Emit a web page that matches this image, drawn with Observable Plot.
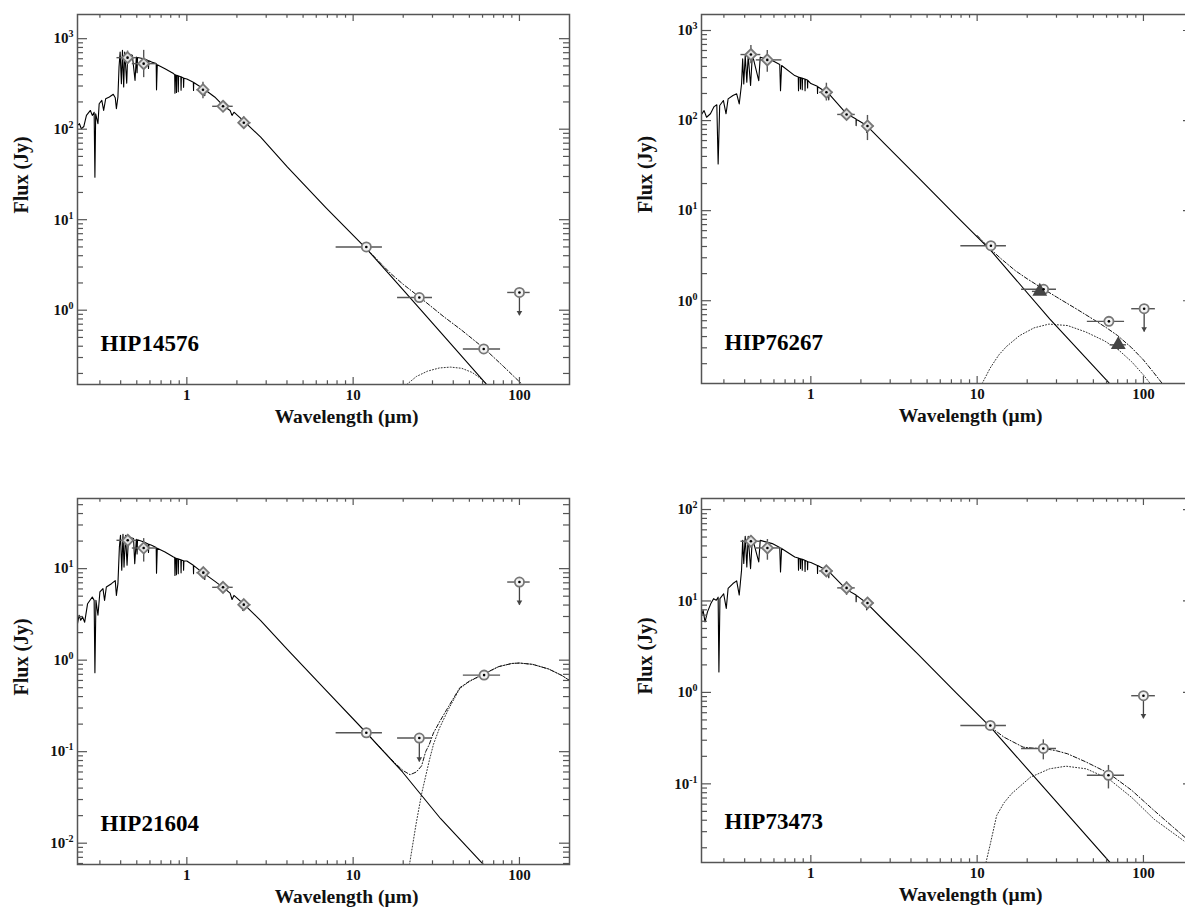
<!DOCTYPE html>
<html>
<head>
<meta charset="utf-8">
<script src="https://cdn.jsdelivr.net/npm/d3@7"></script>
<script src="https://cdn.jsdelivr.net/npm/@observablehq/plot@0.6"></script>
<style>
html, body { margin: 0; padding: 0; background: #fff; overflow: hidden; width: 1185px; height: 915px; }
#wrap { position: relative; width: 1185px; height: 915px; overflow: hidden; background: #fff; }
.panel { position: absolute; }
</style>
</head>
<body>
<div id="wrap"></div>
<script>
// ---------------- shared axis values ----------------
const xDomain = [0.22, 200];
const xMajor = [1, 10, 100];
const xMinor = [0.3, 0.4, 0.5, 0.6, 0.7, 0.8, 0.9, 2, 3, 4, 5, 6, 7, 8, 9, 20, 30, 40, 50, 60, 70, 80, 90];
const xTickLabels = ["1", "10", "100"];

// ---------------- HIP14576 ----------------
const p1Name = "HIP14576";
const p1YDomain = [0.151, 1850];
const p1YMajor = [1, 10, 100, 1000];
const p1YExp = ["0", "1", "2", "3"];
const p1SpecW = [0.22,0.226,0.232,0.24,0.249,0.263,0.27,0.277,0.28,0.283,0.292,0.297,0.308,0.316,0.325,0.342,0.361,0.371,0.377,0.385,0.391,0.397,0.404,0.41,0.417,0.423,0.435,0.441,0.47,0.488,0.497,0.502,0.505,0.552,0.585,0.588,0.591,0.614,0.654,0.657,0.664,0.739,0.831,0.845,0.848,0.851,0.862,0.866,0.87,0.885,0.888,0.892,0.92,0.923,0.927,0.953,0.956,0.96,1.0,1.094,1.097,1.1,1.25,1.28,1.282,1.285,1.47,1.65,1.82,1.87,1.92,2.166,2.168,2.17,2.2,2.78,4.03,6.85,12,19.8,33.6,63.7,200];
const p1SpecF = [110,115,101,107,142,161,142,154,29.5,148,115,191,208,161,217,227,243,223,168,227,486,712,318,743,292,712,323,683,655,346,627,420,620,600,575,470,570,552,530,272,516,466,412,400,250,400,395,255,393,390,260,388,380,270,378,368,290,366,358,330,268,328,282,275,235,273,227,183,161,142,154,126,105,125,123,81.6,38,13.6,4.8,1.71,0.57,0.15,0.0155];
const p1DustW = [21, 24, 28, 33, 38.5, 45, 52, 58, 64, 72];
const p1DustF = [0.151, 0.185, 0.212, 0.23, 0.235, 0.228, 0.205, 0.178, 0.151, 0.12];
const p1TotW = [12, 15, 17, 20, 25.4, 35, 45, 61.7, 80, 104, 120];
const p1TotF = [4.8, 3.15, 2.5, 1.93, 1.37, 0.85, 0.6, 0.375, 0.24, 0.151, 0.115];
const p1PhotW   = [0.44, 0.55, 1.25, 1.65, 2.2, 12, 25, 61, 100];
const p1PhotF   = [617, 530, 273, 179, 118, 5.0, 1.38, 0.373, 1.57];
const p1PhotWLo = [0.38, 0.47, 1.15, 1.43, 2.06, 7.9, 18.5, 46, 85];
const p1PhotWHi = [0.50, 0.66, 1.36, 1.90, 2.43, 15, 30, 77, 116];
const p1PhotFLo = [520, 371, 217, 160, 101, 4.7, 1.3, 0.35, null];
const p1PhotFHi = [730, 743, 331, 200, 136, 5.3, 1.46, 0.40, null];
const p1PhotKind = ["d", "d", "d", "d", "d", "c", "c", "c", "u"];
const p1PhotArrow = [null, null, null, null, null, null, null, null, 0.87];

// ---------------- HIP76267 ----------------
const p2Name = "HIP76267";
const p2YDomain = [0.1205, 1506];
const p2YMajor = [1, 10, 100, 1000];
const p2YExp = ["0", "1", "2", "3"];
const p2SpecW = [0.218,0.228,0.236,0.249,0.262,0.272,0.277,0.283,0.298,0.309,0.318,0.34,0.358,0.371,0.383,0.389,0.395,0.403,0.412,0.42,0.434,0.445,0.486,0.496,0.586,0.65,0.657,0.667,0.8,0.84,0.843,0.846,0.863,0.866,0.869,0.885,0.888,0.891,0.92,0.923,0.926,0.953,0.956,0.959,1.0,1.094,1.097,1.1,1.24,1.28,1.282,1.285,1.64,1.87,1.872,1.875,1.93,2.166,2.168,2.17,2.19,2.78,4.43,7.45,12.1,27.3,62.7,200];
const p2SpecF = [114,129,109,119,143,150,33,147,167,119,174,190,198,153,255,484,255,527,267,527,245,541,278,506,464,419,215,409,316,305,215,303,300,225,298,296,220,294,290,215,288,282,230,280,258,240,200,238,206,200,170,198,119,104,88,103,100,88,74,87,86,55.2,23.2,8.8,3.6,0.63,0.12,0.0114];
const p2DustW = [10.7, 12, 13.5, 15, 18, 22, 27, 35, 45, 58, 70, 85, 100, 110, 125];
const p2DustF = [0.12, 0.18, 0.25, 0.31, 0.41, 0.5, 0.55, 0.53, 0.45, 0.36, 0.29, 0.21, 0.15, 0.12, 0.09];
const p2TotW = [10, 12, 14, 17, 20, 25, 30, 40, 50, 60, 70, 85, 100, 115, 130, 160];
const p2TotF = [5.3, 3.75, 2.9, 2.15, 1.75, 1.35, 1.1, 0.8, 0.62, 0.5, 0.41, 0.3, 0.22, 0.16, 0.12, 0.075];
const p2PhotW   = [0.436, 0.547, 1.24, 1.64, 2.19, 12.1, 25.1, 23.8, 62, 70.6, 101];
const p2PhotF   = [541, 472, 206, 117, 87, 4.08, 1.34, 1.27, 0.59, 0.324, 0.815];
const p2PhotWLo = [0.38, 0.47, 1.13, 1.45, 2.05, 7.98, 18.5, 21.5, 46, 63, 85];
const p2PhotWHi = [0.50, 0.67, 1.36, 1.85, 2.40, 15, 30, 26.5, 77, 79, 118];
const p2PhotFLo = [427, 344, 165, 105, 60, 3.85, 1.27, null, 0.56, 0.28, null];
const p2PhotFHi = [681, 600, 260, 130, 114, 4.3, 1.42, null, 0.62, 0.37, null];
const p2PhotKind = ["d", "d", "d", "d", "d", "c", "c", "t", "c", "t", "u"];
const p2PhotArrow = [null, null, null, null, null, null, null, null, null, null, 0.45];

// ---------------- HIP21604 ----------------
const p3Name = "HIP21604";
const p3YDomain = [0.00585, 58.4];
const p3YMajor = [0.01, 0.1, 1, 10];
const p3YExp = ["-2", "-1", "0", "1"];
const p3SpecW = [0.22,0.225,0.23,0.236,0.243,0.253,0.27,0.277,0.28,0.284,0.292,0.3,0.313,0.32,0.328,0.352,0.371,0.377,0.385,0.393,0.399,0.406,0.413,0.419,0.428,0.437,0.446,0.478,0.486,0.497,0.502,0.505,0.552,0.585,0.588,0.591,0.614,0.654,0.657,0.664,0.739,0.831,0.845,0.848,0.851,0.862,0.866,0.87,0.885,0.888,0.892,0.92,0.923,0.927,0.953,0.956,0.96,1.0,1.094,1.097,1.1,1.256,1.28,1.282,1.285,1.47,1.65,1.82,1.87,1.92,2.166,2.168,2.17,2.2,2.78,4.03,6.85,12,19.8,33.6,61,200];
const p3SpecF = [2.5,3.1,2.73,2.96,2.6,4.14,4.9,4.5,0.73,4.5,3.1,5.56,6.04,4.5,6.3,6.85,7.4,5.1,6.85,17.3,23.1,9.6,23.7,10.4,23.1,10.9,22.2,21.3,11.3,20.9,14.5,20.7,19.5,18.6,15,18.5,18,17,8.9,16.7,15.2,13.4,13.2,8.4,13.1,13,8.6,12.9,12.8,8.8,12.7,12.5,9,12.4,12.2,9.6,12.1,12.1,10.9,8.8,10.8,8.9,8.8,7.6,8.7,7.3,6.25,5.4,4.6,5.1,4.2,3.5,4.2,4.1,2.7,1.3,0.47,0.161,0.06,0.0185,0.0058,0.00053];
const p3DustW = [21.8, 23.9, 25.8, 28.7, 30.4, 33, 37.4, 43.8, 50, 61.3, 75, 90, 100, 120, 150, 180, 200];
const p3DustF = [0.0058, 0.0162, 0.0346, 0.08, 0.12, 0.18, 0.29, 0.49, 0.585, 0.705, 0.85, 0.92, 0.93, 0.9, 0.8, 0.68, 0.6];
const p3TotW = [12, 15, 18, 20, 22, 24, 25.8, 27.3, 28.7, 30.4, 33, 37.4, 43.8, 50, 61.3, 75, 90, 100, 120, 150, 180, 200];
const p3TotF = [0.161, 0.104, 0.074, 0.062, 0.056, 0.06, 0.07, 0.1, 0.12, 0.16, 0.21, 0.31, 0.5, 0.59, 0.71, 0.85, 0.92, 0.93, 0.9, 0.8, 0.68, 0.6];
const p3PhotW   = [0.441, 0.55, 1.256, 1.65, 2.2, 12, 25, 61.3, 100];
const p3PhotF   = [20.4, 16.8, 9.04, 6.25, 4.04, 0.161, 0.141, 0.687, 7.14];
const p3PhotWLo = [0.38, 0.47, 1.15, 1.43, 2.06, 7.9, 18.5, 46, 85];
const p3PhotWHi = [0.50, 0.66, 1.36, 1.90, 2.43, 15, 30, 77, 116];
const p3PhotFLo = [18.5, 11.8, 8.1, 5.56, 3.5, 0.145, null, 0.63, null];
const p3PhotFHi = [22.5, 21.3, 9.8, 6.85, 4.5, 0.18, null, 0.75, null];
const p3PhotKind = ["d", "d", "d", "d", "d", "c", "u", "c", "u"];
const p3PhotArrow = [null, null, null, null, null, null, 0.077, null, 3.98];

// ---------------- HIP73473 ----------------
const p4Name = "HIP73473";
const p4YDomain = [0.0138, 132];
const p4YMajor = [0.1, 1, 10, 100];
const p4YExp = ["-1", "0", "1", "2"];
const p4SpecW = [0.219,0.225,0.231,0.239,0.25,0.26,0.27,0.277,0.28,0.284,0.299,0.31,0.318,0.34,0.358,0.371,0.383,0.389,0.395,0.403,0.412,0.42,0.434,0.445,0.486,0.496,0.586,0.65,0.657,0.667,0.8,0.84,0.843,0.846,0.863,0.866,0.869,0.885,0.888,0.891,0.92,0.923,0.926,0.953,0.956,0.959,1.0,1.094,1.097,1.1,1.24,1.28,1.282,1.285,1.64,1.87,1.872,1.875,1.93,2.166,2.168,2.17,2.19,2.78,4.42,7.43,12.0,27.2,62.7,200];
const p4SpecF = [6.7,7.9,5.9,7.6,9.3,10.6,10.2,11,1.67,10.6,12,8.3,13.7,15.5,16.6,11.6,21.7,46.2,25.7,51,23.6,51,22.6,49,26.7,46,42.4,38.4,20.8,37.4,30.3,29.5,21.7,29.4,29,22.6,28.9,28.6,21.7,28.5,27.8,21,27.7,27,22,26.9,26.3,24.5,20,24.4,21.7,21,18,20.9,13.3,11.6,9.8,11.5,11.1,9.5,8,9.4,9.3,6.0,2.6,1.0,0.42,0.0775,0.0139,0.00128];
const p4DustW = [11.3, 12, 13.1, 14.5, 16.1, 20.9, 27.2, 34.2, 45.3, 61.6, 85, 116, 174, 200];
const p4DustF = [0.0138, 0.022, 0.045, 0.062, 0.078, 0.118, 0.146, 0.156, 0.146, 0.114, 0.071, 0.041, 0.024, 0.019];
const p4TotW = [12, 14.5, 18.9, 22, 25, 30, 35, 45.3, 61.6, 85, 116, 182, 200];
const p4TotF = [0.42, 0.324, 0.252, 0.245, 0.244, 0.23, 0.213, 0.173, 0.131, 0.085, 0.051, 0.025, 0.021];
const p4PhotW   = [0.436, 0.548, 1.24, 1.64, 2.19, 12, 25, 61.6, 100];
const p4PhotF   = [45, 38, 21.3, 13.9, 9.5, 0.435, 0.244, 0.124, 0.92];
const p4PhotWLo = [0.38, 0.47, 1.13, 1.45, 2.05, 7.98, 18.5, 46, 85];
const p4PhotWHi = [0.50, 0.67, 1.36, 1.85, 2.40, 15, 30, 77, 118];
const p4PhotFLo = [40, 27.9, 18.3, 11.5, 8.2, 0.41, 0.183, 0.088, null];
const p4PhotFHi = [51, 47, 24, 16.1, 10.6, 0.46, 0.303, 0.159, null];
const p4PhotKind = ["d", "d", "d", "d", "d", "c", "c", "c", "u"];
const p4PhotArrow = [null, null, null, null, null, null, null, null, 0.515];

// ---------------- drawing ----------------
const FONT = "'Liberation Serif', 'Times New Roman', 'DejaVu Serif', serif";
const triDown = {
  draw(ctx, size) {
    const s = Math.sqrt(size / Math.PI);
    ctx.moveTo(-s, -1.7 * s);
    ctx.lineTo(s, -1.7 * s);
    ctx.lineTo(0, 0);
    ctx.closePath();
  }
};

function minorTicks(domain) {
  const out = [];
  const lo = Math.floor(Math.log10(domain[0])), hi = Math.ceil(Math.log10(domain[1]));
  for (let e = lo; e <= hi; e++) {
    for (let m = 2; m <= 9; m++) {
      const v = m * Math.pow(10, e);
      if (v > domain[0] && v < domain[1]) out.push(v);
    }
  }
  return out;
}

function makePanel(c) {
  const W = 592, mL = 77, mR = 23, mT = 14;
  const innerW = W - mL - mR;
  const innerH = c.frameH;
  const mB = c.svgH - mT - innerH;
  const pair = (ws, fs) => ws.map((w, i) => ({w, f: fs[i]}));
  const spec = pair(c.specW, c.specF);
  const dust = pair(c.dustW, c.dustF);
  const tot = pair(c.totW, c.totF);
  const phot = c.photW.map((w, i) => ({
    w, f: c.photF[i], wlo: c.photWLo[i], whi: c.photWHi[i],
    flo: c.photFLo[i], fhi: c.photFHi[i], kind: c.photKind[i], fa: c.photArrow[i]
  }));
  const diamonds = phot.filter(d => d.kind === "d");
  const circles = phot.filter(d => d.kind === "c" || d.kind === "u");
  const tris = phot.filter(d => d.kind === "t");
  const ul = phot.filter(d => d.kind === "u");
  const yMinor = minorTicks(c.yDomain);
  const tickStroke = "#555";
  const svg = Plot.plot({
    width: W, height: c.svgH,
    marginLeft: mL, marginRight: mR, marginTop: mT, marginBottom: mB,
    x: {type: "log", domain: xDomain, axis: null},
    y: {type: "log", domain: c.yDomain, axis: null},
    style: {fontFamily: FONT, background: "white", overflow: "visible", color: "black"},
    marks: [
      Plot.line(dust, {x: "w", y: "f", stroke: "#333", strokeWidth: 1, strokeDasharray: "1,2", clip: true}),
      Plot.line(tot, {x: "w", y: "f", stroke: "#111", strokeWidth: 1, strokeDasharray: "4,2,1,2", clip: true}),
      Plot.line(spec, {x: "w", y: "f", stroke: "#000", strokeWidth: 1.1, clip: true}),
      Plot.ruleY(phot, {y: "f", x1: "wlo", x2: "whi", stroke: "#555", strokeWidth: 1.4}),
      Plot.ruleX(phot.filter(d => d.flo != null), {x: "w", y1: "flo", y2: "fhi", stroke: "#555", strokeWidth: 1.4}),
      Plot.ruleX(ul, {x: "w", y1: "f", y2: "fa", stroke: "#444", strokeWidth: 1.3}),
      Plot.dot(ul, {x: "w", y: "fa", symbol: triDown, r: 2.8, fill: "#444"}),
      Plot.dot(diamonds, {x: "w", y: "f", symbol: "diamond2", r: 5, fill: "#e0e0e0", stroke: "#777", strokeWidth: 1.8}),
      Plot.dot(circles, {x: "w", y: "f", r: 4.6, fill: "#f2f2f2", stroke: "#777", strokeWidth: 1.8}),
      Plot.dot(tris, {x: "w", y: "f", symbol: "triangle", r: 5.5, fill: "#444"}),
      Plot.dot(diamonds.concat(circles), {x: "w", y: "f", r: 1.3, fill: "#000"}),
      // ticks, inward, on all four sides
      Plot.ruleX(xMajor, {x: d => d, insetTop: innerH - 7, stroke: tickStroke, strokeWidth: 1.2}),
      Plot.ruleX(xMinor, {x: d => d, insetTop: innerH - 3.7, stroke: tickStroke, strokeWidth: 1.2}),
      Plot.ruleX(xMajor, {x: d => d, insetBottom: innerH - 7, stroke: tickStroke, strokeWidth: 1.2}),
      Plot.ruleX(xMinor, {x: d => d, insetBottom: innerH - 3.7, stroke: tickStroke, strokeWidth: 1.2}),
      Plot.ruleY(c.yMajor, {y: d => d, insetRight: innerW - 10, stroke: tickStroke, strokeWidth: 1.2}),
      Plot.ruleY(yMinor, {y: d => d, insetRight: innerW - 6, stroke: tickStroke, strokeWidth: 1.2}),
      Plot.ruleY(c.yMajor, {y: d => d, insetLeft: innerW - 10, stroke: tickStroke, strokeWidth: 1.2}),
      Plot.ruleY(yMinor, {y: d => d, insetLeft: innerW - 6, stroke: tickStroke, strokeWidth: 1.2}),
      Plot.frame({stroke: "#555", strokeWidth: 1.5}),
      // tick labels
      Plot.text(xMajor, {x: d => d, text: (d, i) => xTickLabels[i], frameAnchor: "bottom", dy: 15, fontSize: 15, fontWeight: "bold", fill: "#111"}),
      Plot.text(c.yMajor, {y: d => d, text: (d, i) => "\u00a7" + c.yExp[i], frameAnchor: "left", dx: -4, textAnchor: "end", fontSize: 15, fontWeight: "bold", fill: "#111"}),
      // axis titles
      Plot.text(["Wavelength (\u03bcm)"], {frameAnchor: "bottom", dx: 23, dy: 38, fontSize: 19.5, fontWeight: "bold", fill: "#111"}),
      Plot.text(["Flux (Jy)"], {frameAnchor: "left", dx: -56, dy: 14, rotate: -90, fontSize: 20, fontWeight: "bold", fill: "#111"}),
      Plot.text([c.name], {frameAnchor: "bottom-left", dx: 23, dy: -33.5, textAnchor: "start", fontSize: 23, fontWeight: "bold", fill: "#000"})
    ]
  });
  // superscript exponents on the y tick labels
  d3.select(svg).selectAll("text").each(function () {
    const t = this.textContent;
    if (t.startsWith("\u00a7")) {
      const e = t.slice(1);
      const s = d3.select(this);
      s.text(null);
      s.append("tspan").text("10");
      s.append("tspan").attr("dy", "-0.6em").attr("font-size", "10px").text(e);
    }
  });
  svg.classList.add("panel");
  svg.style.left = c.left + "px";
  svg.style.top = c.top + "px";
  svg.style.position = "absolute";
  document.getElementById("wrap").appendChild(svg);
}

makePanel({name: p1Name, left: 0, top: 0, frameH: 370, svgH: 440, yDomain: p1YDomain, yMajor: p1YMajor, yExp: p1YExp,
  specW: p1SpecW, specF: p1SpecF, dustW: p1DustW, dustF: p1DustF, totW: p1TotW, totF: p1TotF,
  photW: p1PhotW, photF: p1PhotF, photWLo: p1PhotWLo, photWHi: p1PhotWHi, photFLo: p1PhotFLo, photFHi: p1PhotFHi, photKind: p1PhotKind, photArrow: p1PhotArrow});
makePanel({name: p2Name, left: 624, top: 0, frameH: 369, svgH: 440, yDomain: p2YDomain, yMajor: p2YMajor, yExp: p2YExp,
  specW: p2SpecW, specF: p2SpecF, dustW: p2DustW, dustF: p2DustF, totW: p2TotW, totF: p2TotF,
  photW: p2PhotW, photF: p2PhotF, photWLo: p2PhotWLo, photWHi: p2PhotWHi, photFLo: p2PhotFLo, photFHi: p2PhotFHi, photKind: p2PhotKind, photArrow: p2PhotArrow});
makePanel({name: p3Name, left: 0, top: 484, frameH: 366, svgH: 431, yDomain: p3YDomain, yMajor: p3YMajor, yExp: p3YExp,
  specW: p3SpecW, specF: p3SpecF, dustW: p3DustW, dustF: p3DustF, totW: p3TotW, totF: p3TotF,
  photW: p3PhotW, photF: p3PhotF, photWLo: p3PhotWLo, photWHi: p3PhotWHi, photFLo: p3PhotFLo, photFHi: p3PhotFHi, photKind: p3PhotKind, photArrow: p3PhotArrow});
makePanel({name: p4Name, left: 624, top: 484, frameH: 364, svgH: 431, yDomain: p4YDomain, yMajor: p4YMajor, yExp: p4YExp,
  specW: p4SpecW, specF: p4SpecF, dustW: p4DustW, dustF: p4DustF, totW: p4TotW, totF: p4TotF,
  photW: p4PhotW, photF: p4PhotF, photWLo: p4PhotWLo, photWHi: p4PhotWHi, photFLo: p4PhotFLo, photFHi: p4PhotFHi, photKind: p4PhotKind, photArrow: p4PhotArrow});
</script>
</body>
</html>
